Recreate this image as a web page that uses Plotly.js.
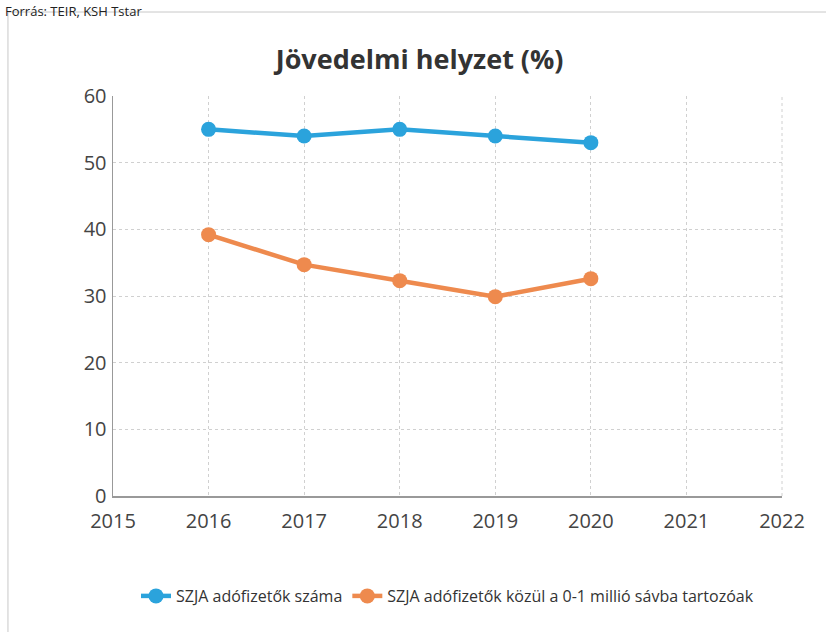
<!DOCTYPE html>
<html><head><meta charset="utf-8">
<script src="https://cdn.plot.ly/plotly-3.0.1.min.js"></script>
<style>html,body{margin:0;padding:0;background:#fff;}#c{width:826px;height:632px;}</style>
</head><body><div id="c"></div>
<script>
const years = [2016, 2017, 2018, 2019, 2020];
const seriesNames = ["SZJA adófizetők száma", "SZJA adófizetők közül a 0-1 millió sávba tartozóak"];
const taxpayers = [55, 54, 55, 54, 53];
const lowBand = [39.2, 34.7, 32.3, 29.9, 32.6];
const xTicks = [2015, 2016, 2017, 2018, 2019, 2020, 2021, 2022];
const yTicks = [0, 10, 20, 30, 40, 50, 60];
const titleText = "Jövedelmi helyzet (%)";
const sourceText = "Forrás: TEIR, KSH Tstar";

const font = "Open Sans, Liberation Sans, sans-serif";
const traces = [
  {x: years, y: taxpayers, name: seriesNames[0], type: "scatter", mode: "lines+markers",
   line: {color: "#2ba3dc", width: 4.5}, marker: {color: "#2ba3dc", size: 15}},
  {x: years, y: lowBand, name: seriesNames[1], type: "scatter", mode: "lines+markers",
   line: {color: "#ee8a4e", width: 4.5}, marker: {color: "#ee8a4e", size: 15}}
];
const layout = {
  width: 826, height: 632,
  margin: {l: 113, r: 44, t: 96, b: 136},
  paper_bgcolor: "#fff", plot_bgcolor: "#fff",
  title: {text: "<b>" + titleText + "</b>", x: 0.508, xanchor: "center", y: 0.905, yanchor: "middle",
          font: {family: font, size: 27, color: "#333"}},
  xaxis: {range: [2015, 2022], tickvals: xTicks, ticktext: xTicks.map(String), showgrid: true,
          gridcolor: "#d0d0d0", griddash: "dot", gridwidth: 1, showline: true, linecolor: "#999",
          linewidth: 1.5, zeroline: false, ticks: "", ticklen: 0, ticklabelstandoff: 6,
          tickfont: {family: font, size: 20, color: "#444"}, fixedrange: true},
  yaxis: {range: [0, 60], tickvals: yTicks, showgrid: true, gridcolor: "#d0d0d0", griddash: "dot",
          gridwidth: 1, showline: true, linecolor: "#999", linewidth: 1.5, zeroline: false, ticks: "",
          tickfont: {family: font, size: 20, color: "#444"}, ticklabelstandoff: 1, fixedrange: true},
  showlegend: true,
  legend: {orientation: "h", x: 0.5, xanchor: "center", y: -0.25, yanchor: "middle",
           font: {family: font, size: 16, color: "#333"}, tracegroupgap: 0},
  shapes: [
    {type: "rect", xref: "paper", yref: "paper", x0: -0.157, x1: 1.1, y0: -0.4, y1: 1.21,
     line: {color: "#c8c8c8", width: 1}, fillcolor: "rgba(0,0,0,0)", layer: "below"},
    {type: "line", xref: "paper", yref: "paper", x0: 1, x1: 1, y0: 0, y1: 1,
     line: {color: "#d0d0d0", width: 1, dash: "dot"}}
  ],
  annotations: [
    {text: sourceText, xref: "paper", yref: "paper", x: -0.165, xanchor: "left", y: 1.24, yanchor: "top",
     showarrow: false, font: {family: font, size: 13, color: "#222"}}
  ]
};
Plotly.newPlot("c", traces, layout, {displayModeBar: false, staticPlot: true});
</script></body></html>
